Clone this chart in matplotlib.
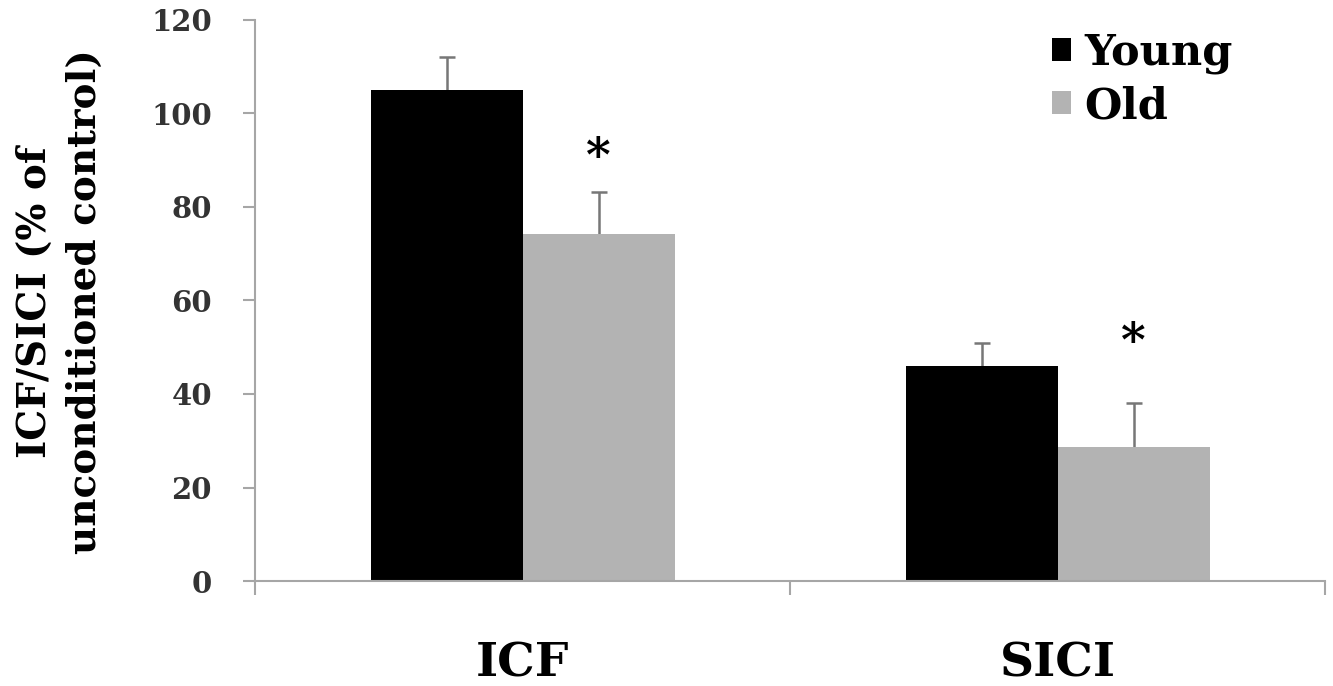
import numpy as np
import matplotlib
matplotlib.use("Agg")
import matplotlib.pyplot as plt
from matplotlib.patches import Patch

# Données
categories = ["ICF", "SICI"]
young = [105.0, 46.0]
old = [74.2, 28.7]
young_err = [7.0, 4.8]
old_err = [9.1, 9.4]
star_y = [90.4, 51.0]  # position des astérisques (barre Old)

plt.rcParams['font.family'] = ['DejaVu Serif']

fig = plt.figure(figsize=(13.33, 6.86), dpi=100)
ax = fig.add_axes([0.1913, 0.153, 0.803, 0.818])

x = np.arange(len(categories))
w = 0.284
axis_grey = "#a6a6a6"

ax.bar(x - w / 2, young, w, color="black", label="Young", zorder=2)
ax.bar(x + w / 2, old, w, color="#b3b3b3", label="Old", zorder=2)

# Barres d'erreur : la moitié basse est cachée derrière les barres
ax.errorbar(x - w / 2, young, yerr=young_err, fmt="none",
            ecolor="#777777", elinewidth=1.8, capsize=6, capthick=1.8, zorder=1)
ax.errorbar(x + w / 2, old, yerr=old_err, fmt="none",
            ecolor="#777777", elinewidth=1.8, capsize=6, capthick=1.8, zorder=1)

for xi, yi in zip(x + w / 2, star_y):
    ax.text(xi, yi, "*", ha="center", va="center", fontsize=34, fontweight="bold")

ax.set_xlim(-0.5, 1.5)
ax.set_ylim(0, 120)
ax.set_yticks(np.arange(0, 121, 20))
ax.set_xticks(x)
ax.set_xticklabels(categories, fontsize=34, fontweight="bold")
ax.set_xticks([-0.5, 0.5, 1.5], minor=True)

ax.tick_params(axis="x", which="major", length=0, pad=43)
ax.tick_params(axis="x", which="minor", length=10, width=1.5, color=axis_grey, direction="out")
ax.tick_params(axis="y", length=9, width=1.5, color=axis_grey, direction="out",
               labelsize=21, labelcolor="#333333", pad=22)
for lab in ax.get_yticklabels():
    lab.set_fontweight("bold")

for s in ["top", "right"]:
    ax.spines[s].set_visible(False)
for s in ["left", "bottom"]:
    ax.spines[s].set_color(axis_grey)
    ax.spines[s].set_linewidth(1.5)

fig.text(0.045, 0.56, "ICF/SICI (% of\nunconditioned control)", rotation=90,
         ha="center", va="center", fontsize=28, fontweight="bold", linespacing=1.4)

handles = [Patch(facecolor="black"), Patch(facecolor="#b3b3b3")]
leg = fig.legend(handles, ["Young", "Old"], loc="upper left",
                 bbox_to_anchor=(1052 / 1333, 1 - 32 / 686),
                 frameon=False, fontsize=31, handlelength=0.45, handleheight=0.45,
                 handletextpad=0.3, labelspacing=0.25, borderpad=0, borderaxespad=0)
for t in leg.get_texts():
    t.set_fontweight("bold")

plt.savefig("out.png", dpi=100)
